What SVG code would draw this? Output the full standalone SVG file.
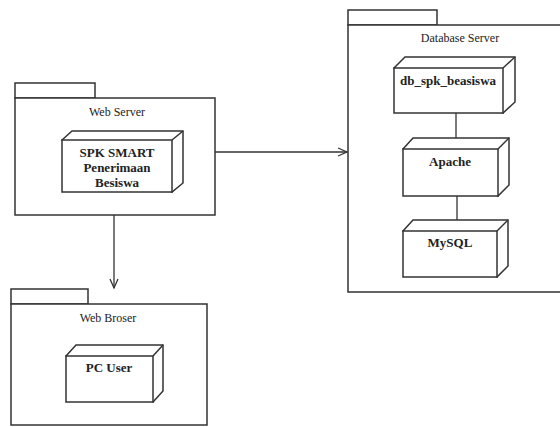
<svg xmlns="http://www.w3.org/2000/svg" width="560" height="427" viewBox="0 0 560 427">
<defs>
<style>
.pkg{fill:#fff;stroke:#333;stroke-width:1.5}
.box{fill:#fff;stroke:#333;stroke-width:1.5;stroke-linejoin:miter}
text{font-family:'Liberation Serif','DejaVu Serif','Times New Roman',serif}
.lbl{font-size:12px;fill:#222;text-anchor:middle}
.nl{font-size:13px;font-weight:bold;fill:#222;text-anchor:middle}
.con{fill:none;stroke:#333;stroke-width:1.3}
</style>
<marker id="open" markerWidth="12" markerHeight="12" refX="10" refY="5" orient="auto" markerUnits="userSpaceOnUse">
<path d="M1,1 L10,5 L1,9" fill="none" stroke="#333" stroke-width="1.3"/>
</marker>
</defs>
<rect width="560" height="427" fill="#fff"/>

<g id="web-server">
<rect class="pkg" x="15" y="83" width="80" height="15"/>
<rect class="pkg" x="15" y="98" width="200" height="117"/>
<text class="lbl" x="117" y="116">Web Server</text>
</g>
<g id="spk-smart">
<path class="box" d="M62,140 L72,131 L183,131 L183,183 L172,192 Z"/>
<path class="box" d="M172,140 L183,131"/>
<rect class="box" x="62" y="140" width="110" height="52"/>
<text class="nl" x="117" y="157">SPK SMART</text>
<text class="nl" x="117" y="172">Penerimaan</text>
<text class="nl" x="117" y="187">Besiswa</text>
</g>

<g id="database-server">
<rect class="pkg" x="348" y="10" width="89" height="15"/>
<path class="pkg" d="M563,25 L348,25 L348,292 L563,292"/>
<text class="lbl" x="460" y="42">Database Server</text>
</g>
<g id="db-spk-beasiswa">
<path class="box" d="M394,68 L405,57 L515,57 L515,102 L503,113 Z"/>
<path class="box" d="M503,68 L515,57"/>
<rect class="box" x="394" y="68" width="109" height="45"/>
<text class="nl" x="448" y="85">db_spk_beasiswa</text>
</g>
<g id="apache">
<path class="box" d="M403,149 L413,138 L509,138 L509,185 L498,196 Z"/>
<path class="box" d="M498,149 L509,138"/>
<rect class="box" x="403" y="149" width="95" height="47"/>
<text class="nl" x="450" y="166">Apache</text>
</g>
<g id="mysql">
<path class="box" d="M403,231 L413,220 L508,220 L508,266 L497,277 Z"/>
<path class="box" d="M497,231 L508,220"/>
<rect class="box" x="403" y="231" width="94" height="46"/>
<text class="nl" x="450" y="247">MySQL</text>
</g>

<g id="web-broser">
<rect class="pkg" x="11" y="289" width="77" height="15"/>
<rect class="pkg" x="11" y="304" width="196" height="121"/>
<text class="lbl" x="108" y="322">Web Broser</text>
</g>
<g id="pc-user">
<path class="box" d="M66,356 L76,345 L163,345 L163,391 L153,402 Z"/>
<path class="box" d="M153,356 L163,345"/>
<rect class="box" x="66" y="356" width="87" height="46"/>
<text class="nl" x="109" y="372">PC User</text>
</g>

<g id="connectors">
<line class="con" x1="215" y1="152" x2="347" y2="152" marker-end="url(#open)"/>
<line class="con" x1="114" y1="215" x2="114" y2="288" marker-end="url(#open)"/>
<line class="con" x1="456" y1="113" x2="456" y2="138"/>
<line class="con" x1="457" y1="196" x2="457" y2="220"/>
</g>
</svg>
